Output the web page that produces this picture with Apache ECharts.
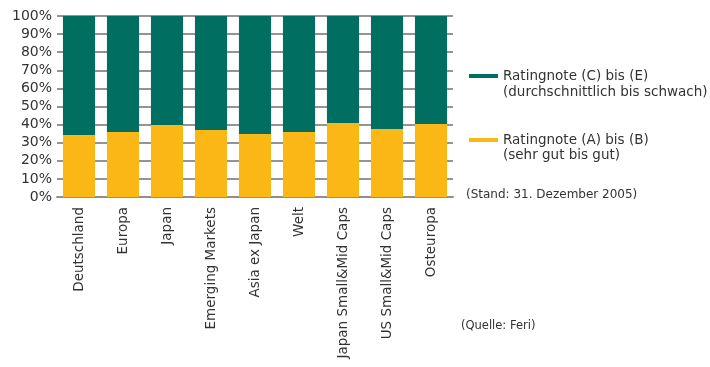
<!DOCTYPE html>
<html>
<head>
<meta charset="utf-8">
<script src="https://cdn.jsdelivr.net/npm/echarts@6/dist/echarts.min.js"></script>
<style>
  html, body { margin: 0; padding: 0; background: #fff; }
  #chart { width: 710px; height: 367px; }
</style>
</head>
<body>
<div id="chart"></div>
<script>
// Rating distribution per equity region (share of funds, %)
const categories = ['Deutschland', 'Europa', 'Japan', 'Emerging Markets', 'Asia ex Japan', 'Welt', 'Japan Small&Mid Caps', 'US Small&Mid Caps', 'Osteuropa'];
const ratingAB = [34.3, 35.9, 39.8, 37.0, 34.8, 35.9, 40.9, 37.6, 40.3];
const ratingCE = [65.7, 64.1, 60.2, 63.0, 65.2, 64.1, 59.1, 62.4, 59.7];
const yTicks = [0, 10, 20, 30, 40, 50, 60, 70, 80, 90, 100];

const nameCE = 'Ratingnote (C) bis (E)';
const subCE = '(durchschnittlich bis schwach)';
const nameAB = 'Ratingnote (A) bis (B)';
const subAB = '(sehr gut bis gut)';
const standText = '(Stand: 31. Dezember 2005)';
const sourceText = '(Quelle: Feri)';

const GREEN = '#006f62';
const YELLOW = '#fbb715';
const TEXT = '#333333';
const FONT = 'DejaVu Sans';

const chart = echarts.init(document.getElementById('chart'));
chart.setOption({
  animation: false,
  textStyle: { fontFamily: FONT },
  grid: { left: 57, right: 257, top: 16, bottom: 170, containLabel: false },
  xAxis: {
    type: 'category',
    data: categories,
    axisLine: { show: true, lineStyle: { color: '#8f8f8f', width: 2 } },
    axisTick: { show: false },
    axisLabel: {
      rotate: 90,
      margin: 10,
      color: TEXT,
      fontFamily: FONT,
      fontSize: 13.5
    }
  },
  yAxis: {
    type: 'value',
    min: yTicks[0],
    max: yTicks[yTicks.length - 1],
    interval: 10,
    axisLine: { show: false },
    axisTick: { show: false },
    axisLabel: {
      margin: 5,
      color: TEXT,
      fontFamily: FONT,
      fontSize: 14,
      formatter: v => v + '%'
    },
    splitLine: { show: true, lineStyle: { color: '#949494', width: 2 } }
  },
  legend: {
    orient: 'vertical',
    left: 464,
    top: 62,
    itemWidth: 29,
    itemHeight: 4,
    itemGap: 46,
    icon: 'rect',
    data: [nameCE, nameAB],
    textStyle: { color: TEXT, fontFamily: FONT, fontSize: 13.5, lineHeight: 18 }
  },
  graphic: [
    { type: 'text', left: 503, top: 85, style: { text: subCE, fill: TEXT, font: '13.5px "DejaVu Sans"' } },
    { type: 'text', left: 503, top: 148, style: { text: subAB, fill: TEXT, font: '13.5px "DejaVu Sans"' } },
    { type: 'text', left: 466, top: 189, style: { text: standText, fill: TEXT, font: '12px "DejaVu Sans"' } },
    { type: 'text', left: 461, top: 320, style: { text: sourceText, fill: TEXT, font: '11.5px "DejaVu Sans"' } }
  ],
  series: [
    {
      name: nameAB,
      type: 'bar',
      stack: 'rating',
      data: ratingAB,
      barCategoryGap: '27%',
      itemStyle: { color: YELLOW },
      z: 3
    },
    {
      name: nameCE,
      type: 'bar',
      stack: 'rating',
      data: ratingCE,
      itemStyle: { color: GREEN },
      z: 3
    }
  ]
});
</script>
</body>
</html>
